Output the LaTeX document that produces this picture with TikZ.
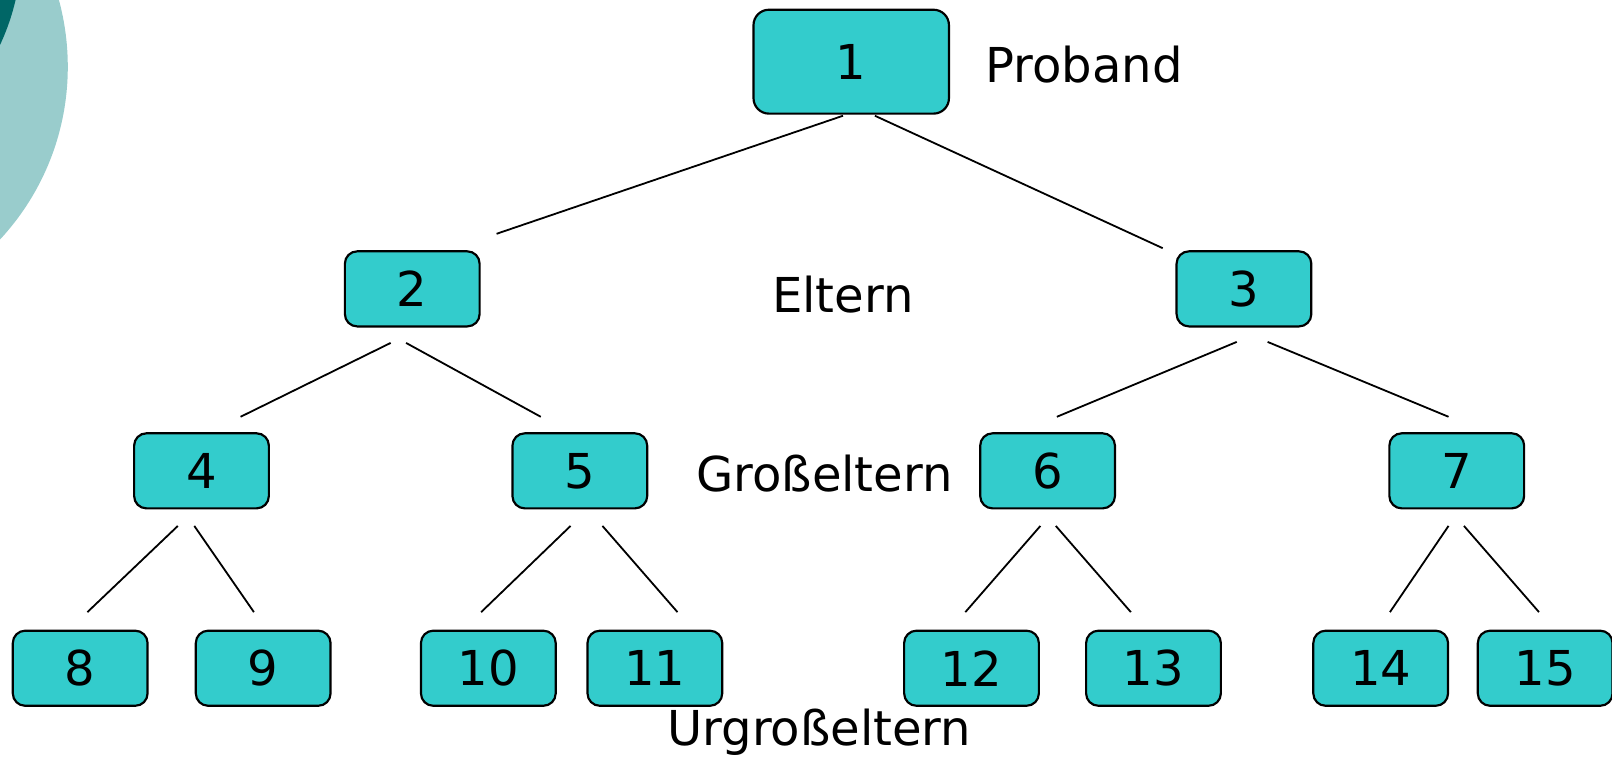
\documentclass[tikz,border=0pt]{standalone}
\usepackage{fontspec}
\setmainfont{DejaVu Sans}
\usepackage{xcolor}
\usepackage{tikz}
\usetikzlibrary{calc,positioning}

\definecolor{nodeteal}{HTML}{33CCCC}
\definecolor{paleteal}{HTML}{99CCCC}
\definecolor{darkteal}{HTML}{006666}

\begin{document}
\begin{tikzpicture}[
    x=0.01cm, y=-0.01cm,
    person/.style={rectangle, draw=black, fill=nodeteal, line width=0.6pt, minimum width=1.31cm, minimum height=0.73cm, inner sep=0pt, rounded corners=0.12cm, font=\fontsize{13.3}{16}\selectfont},
    proband/.style={person, minimum width=1.9cm, minimum height=1.01cm, rounded corners=0.15cm},
    generation/.style={inner sep=0pt, font=\fontsize{13.3}{16}\selectfont},
    link/.style={line width=0.5pt}
]
    \useasboundingbox (0,0) rectangle (1568,737);
    % background circles
    \begin{scope}
        \clip (0,0) rectangle (1568,737);
        \fill[paleteal] (-181,65) circle[radius=2.468cm];
        \fill[darkteal] (-200,-50) circle[radius=2.207cm];
    \end{scope}

    \node[proband] (n1) at (828,60) {1};
    \node[person] (n2) at (401,281) {2};
    \node[person] (n3) at (1210,281) {3};
    \node[person] (n4) at (196,458) {4};
    \node[person] (n5) at (564,458) {5};
    \node[person] (n6) at (1019,458) {6};
    \node[person] (n7) at (1417,458) {7};
    \node[person] (n8) at (78,650) {8};
    \node[person] (n9) at (256,650) {9};
    \node[person] (n10) at (475,650) {10};
    \node[person] (n11) at (637,650) {11};
    \node[person] (n12) at (945,650) {12};
    \node[person] (n13) at (1122,650) {13};
    \node[person] (n14) at (1343,650) {14};
    \node[person] (n15) at (1503,650) {15};

    \node[generation, anchor=west] (lproband) at (958,63) {Proband};
    \node[generation] (leltern) at (820,287) {Eltern};
    \node[generation] (lgross) at (802,461) {Großeltern};
    \node[generation] (lurgross) at (797,712) {Urgroßeltern};

    \draw[link] ($(n1.south)+(-8,1)$) -- ($(n2.north)+(82,-16)$);
    \draw[link] ($(n1.south)+(23,1)$) -- ($(n3.north)+(-79,-2)$);
    \draw[link] ($(n2.south)+(-21,15)$) -- ($(n4.north)+(38,-15)$);
    \draw[link] ($(n2.south)+(-6,15)$) -- ($(n5.north)+(-38,-15)$);
    \draw[link] ($(n3.south)+(-7,14)$) -- ($(n6.north)+(9,-15)$);
    \draw[link] ($(n3.south)+(23,14)$) -- ($(n7.north)+(-8,-15)$);
    \draw[link] ($(n4.south)+(-23,16)$) -- ($(n8.north)+(7,-17)$);
    \draw[link] ($(n4.south)+(-7,16)$) -- ($(n9.north)+(-9,-17)$);
    \draw[link] ($(n5.south)+(-9,16)$) -- ($(n10.north)+(-7,-17)$);
    \draw[link] ($(n5.south)+(22,16)$) -- ($(n11.north)+(22,-17)$);
    \draw[link] ($(n6.south)+(-7,16)$) -- ($(n12.north)+(-6,-17)$);
    \draw[link] ($(n6.south)+(8,16)$) -- ($(n13.north)+(-22,-17)$);
    \draw[link] ($(n7.south)+(-8,16)$) -- ($(n14.north)+(9,-17)$);
    \draw[link] ($(n7.south)+(7,16)$) -- ($(n15.north)+(-6,-17)$);
\end{tikzpicture}
\end{document}
